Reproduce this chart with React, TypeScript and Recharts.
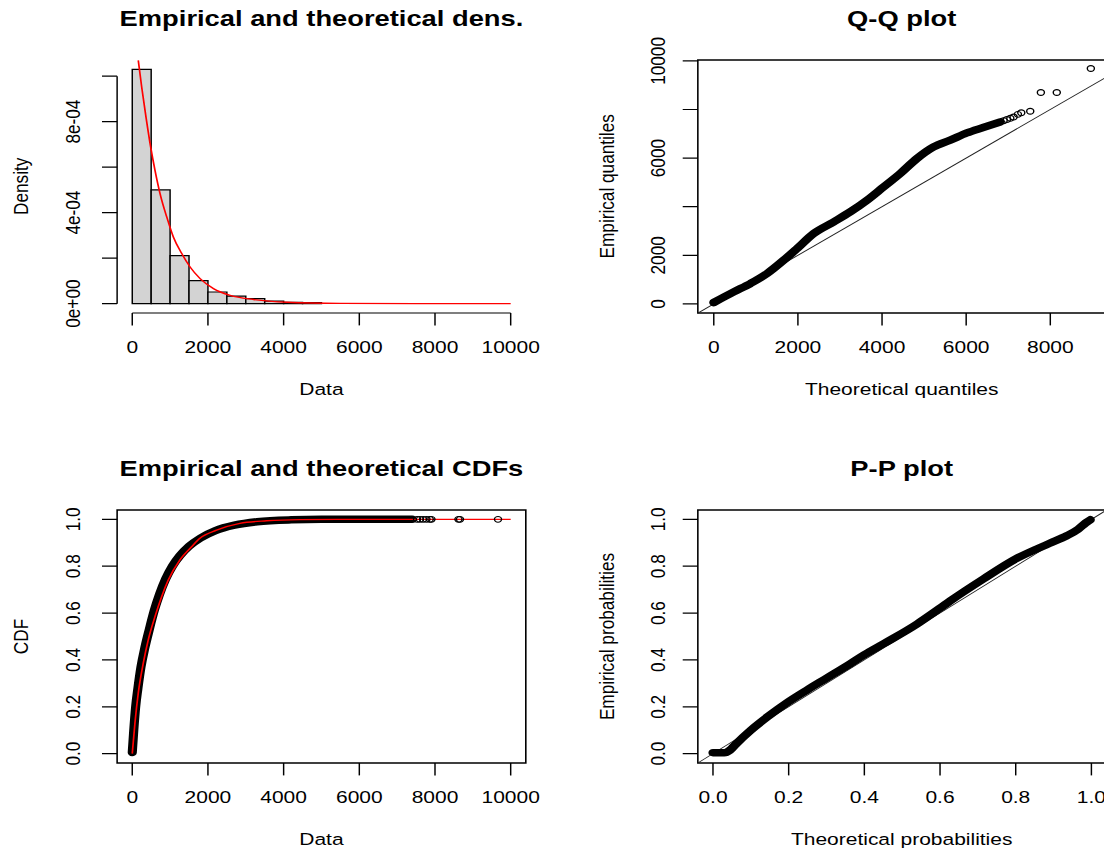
import React from "react";
import {
  ComposedChart,
  Line,
  Scatter,
  XAxis,
  YAxis,
  ReferenceLine,
  ReferenceArea,
} from "recharts";

// The reference picture is an R plot that was stretched sideways,
// so everything is laid out at natural width and then scaled in x.
const STRETCH = 1.22;
const FONT = "'Liberation Sans', Arial, Helvetica, sans-serif";
const TICK_FS = 17.2;
const TITLE_FS = 22.4;

// ---- histogram (bins of 500) ----
const HIST_BIN = 500;
const histMids = [250, 750, 1250, 1750, 2250, 2750, 3250, 3750, 4250, 4750];
const histDensity = [1.03e-3, 5.0e-4, 2.11e-4, 1.01e-4, 5.1e-5, 3.3e-5, 2.2e-5, 1.1e-5, 6e-6, 5e-6];

// fitted density curve (red)
const densX = [159, 249, 363, 487, 601, 734, 911, 1086, 1309, 1528, 1793, 2146, 2588, 3205, 4090, 5500, 7500, 10000];
const densY = [
  1.069e-3, 9.52e-4, 8.2e-4, 6.88e-4, 5.86e-4, 4.84e-4, 3.81e-4, 2.93e-4, 2.2e-4, 1.61e-4, 1.1e-4,
  6.6e-5, 3.6e-5, 1.8e-5, 6e-6, 1e-6, 0, 0,
];

// ---- Q-Q plot ----
const qqTheo = [0, 475, 872, 1268, 1663, 1981, 2375, 2850, 3247, 3643, 4038, 4434, 4830, 5226, 5622, 6018, 6404, 6810];
const qqEmp = [58, 494, 839, 1251, 1798, 2280, 2897, 3374, 3790, 4267, 4815, 5366, 5983, 6461, 6737, 7037, 7259, 7490];
// sparse points in the upper tail
const qqTailTheo = [6890, 6969, 7050, 7127, 7230, 7310, 7523, 7776, 8154, 8964];
const qqTailEmp = [7540, 7588, 7640, 7690, 7800, 7864, 7930, 8700, 8700, 9687];

// ---- CDFs ----
const cdfEmpX = [0, 40, 90, 150, 230, 330, 450, 580, 720, 880, 1060, 1260, 1500, 1800, 2200, 2700, 3300, 4200, 5000, 7400];
const cdfEmpY = [
  0.005, 0.1, 0.2, 0.28, 0.37, 0.45, 0.53, 0.61, 0.68, 0.745, 0.8, 0.845, 0.885, 0.92, 0.952, 0.975, 0.99,
  0.998, 1.0, 1.0,
];
const cdfTailX = [7526, 7600, 7684, 7774, 7861, 7906, 8620, 8660, 9665];
const cdfTailY = [1, 1, 1, 1, 1, 1, 1, 1, 1];
const cdfTheoX = [0, 71, 159, 291, 423, 600, 776, 951, 1260, 1569, 1788, 2229, 2844, 3549, 4429, 6000, 10000];
const cdfTheoY = [0, 0.131, 0.259, 0.386, 0.486, 0.585, 0.67, 0.741, 0.827, 0.883, 0.919, 0.954, 0.983, 0.994, 0.999, 1, 1];

// ---- P-P plot ----
const ppTheo = [
  0, 0.03, 0.045, 0.06, 0.1, 0.145, 0.2, 0.25, 0.3, 0.364, 0.4, 0.452, 0.539, 0.6, 0.627, 0.715, 0.8, 0.89,
  0.935, 0.965, 0.985, 0.997,
];
const ppEmp = [
  0.004, 0.004, 0.015, 0.04, 0.1, 0.158, 0.222, 0.273, 0.322, 0.385, 0.422, 0.47, 0.553, 0.621, 0.652, 0.746,
  0.831, 0.898, 0.93, 0.958, 0.985, 0.998,
];

// ---- axis ticks ----
const dataTicks = [0, 2000, 4000, 6000, 8000, 10000];
const dataTickLabels = ["0", "2000", "4000", "6000", "8000", "10000"];
const densTicks = [0, 2e-4, 4e-4, 6e-4, 8e-4, 1e-3];
const densTickLabels = ["0e+00", "", "4e-04", "", "8e-04", ""];
const qqXTicks = [0, 2000, 4000, 6000, 8000];
const qqXTickLabels = ["0", "2000", "4000", "6000", "8000"];
const qqYTicks = [0, 2000, 4000, 6000, 8000, 10000];
const qqYTickLabels = ["0", "2000", "", "6000", "", "10000"];
const probTicks = [0, 0.2, 0.4, 0.6, 0.8, 1];
const probTickLabels = ["0.0", "0.2", "0.4", "0.6", "0.8", "1.0"];

type Pt = { x: number; y: number };
const zip = (xs: number[], ys: number[]): Pt[] => xs.map((x, i) => ({ x, y: ys[i] }));

const densCurve = zip(densX, densY);
const qqBand = zip(qqTheo, qqEmp);
const qqTail = zip(qqTailTheo, qqTailEmp);
const cdfBand = zip(cdfEmpX, cdfEmpY);
const cdfTail = zip(cdfTailX, cdfTailY);
const cdfTheo = zip(cdfTheoX, cdfTheoY);
const ppBand = zip(ppTheo, ppEmp);

// layout (unstretched px)
const PLOT_W = 335;
const PLOT_H = 253;
const LEFT_X = 96;
const RIGHT_X = 571.6;
const TOP_Y = 59.8;
const BOTTOM_Y = 510;
const PAD_L = 60;
const PAD_T = 45;
const PAD_R = 40;
const PAD_B = 50;
const TICK_LEN = 12.4;

const AX = { stroke: "#000", strokeWidth: 1.2 };

const openCircle = (props: any) => (
  <circle cx={props.cx} cy={props.cy} r={2.9} fill="none" stroke="#000" strokeWidth={1.15} />
);

function labelFor(ticks: number[], labels: string[], v: number) {
  const i = ticks.findIndex((t) => Math.abs(t - v) < 1e-9 * Math.max(1, Math.abs(t)));
  return i >= 0 ? labels[i] : "";
}

interface PanelProps {
  left: number;
  top: number;
  xDomain: [number, number];
  yDomain: [number, number];
  xTicks: number[];
  xLabels: string[];
  yTicks: number[];
  yLabels: string[];
  yLabelOffset: number;
  boxed: boolean;
  children?: React.ReactNode;
}

function Panel(p: PanelProps) {
  const width = PAD_L + PLOT_W + PAD_R;
  const height = PAD_T + PLOT_H + PAD_B;

  const xTick = (props: any) => {
    const label = labelFor(p.xTicks, p.xLabels, props.payload.value);
    if (!label) return <g />;
    return (
      <text x={props.x} y={props.y + 0.358 * TICK_FS} textAnchor="middle" fontSize={TICK_FS} fontFamily={FONT} fill="#000">
        {label}
      </text>
    );
  };

  const yTick = (props: any) => {
    const label = labelFor(p.yTicks, p.yLabels, props.payload.value);
    if (!label) return <g />;
    const bx = props.x + 0.358 * TICK_FS;
    return (
      <text
        x={bx}
        y={props.y}
        transform={`rotate(-90, ${bx}, ${props.y})`}
        textAnchor="middle"
        fontSize={TICK_FS}
        fontFamily={FONT}
        fill="#000"
      >
        {label}
      </text>
    );
  };

  return (
    <div style={{ position: "absolute", left: p.left - PAD_L, top: p.top - PAD_T }}>
      <ComposedChart width={width} height={height} margin={{ top: PAD_T, right: PAD_R, bottom: 0, left: 0 }}>
        <XAxis
          type="number"
          dataKey="x"
          domain={p.xDomain}
          allowDataOverflow
          ticks={p.xTicks}
          interval={0}
          height={PAD_B}
          axisLine={false}
          tickLine={AX}
          tickSize={TICK_LEN}
          tickMargin={21.6}
          tick={xTick}
        />
        <YAxis
          type="number"
          dataKey="y"
          domain={p.yDomain}
          allowDataOverflow
          ticks={p.yTicks}
          interval={0}
          width={PAD_L}
          axisLine={false}
          tickLine={AX}
          tickSize={TICK_LEN}
          tickMargin={p.yLabelOffset - TICK_LEN}
          tick={yTick}
        />
        {p.boxed && (
          <ReferenceArea
            x1={p.xDomain[0]}
            x2={p.xDomain[1]}
            y1={p.yDomain[0]}
            y2={p.yDomain[1]}
            fill="none"
            fillOpacity={0}
            stroke="#000"
            strokeWidth={1.3}
            ifOverflow="visible"
          />
        )}
        {p.children}
      </ComposedChart>
    </div>
  );
}

const titles = [
  { text: "Empirical and theoretical dens.", x: LEFT_X + PLOT_W / 2, y: 26 },
  { text: "Q-Q plot", x: RIGHT_X + PLOT_W / 2, y: 26 },
  { text: "Empirical and theoretical CDFs", x: LEFT_X + PLOT_W / 2, y: 476 },
  { text: "P-P plot", x: RIGHT_X + PLOT_W / 2, y: 476 },
];
const xTitles = [
  { text: "Data", x: LEFT_X + PLOT_W / 2, y: 395.2 },
  { text: "Theoretical quantiles", x: RIGHT_X + PLOT_W / 2, y: 395.2 },
  { text: "Data", x: LEFT_X + PLOT_W / 2, y: 845.2 },
  { text: "Theoretical probabilities", x: RIGHT_X + PLOT_W / 2, y: 845.2 },
];
const yTitles = [
  { text: "Density", x: 17 + 0.358 * TICK_FS, y: TOP_Y + PLOT_H / 2 },
  { text: "Empirical quantiles", x: 497 + 0.358 * TICK_FS, y: TOP_Y + PLOT_H / 2 },
  { text: "CDF", x: 17 + 0.358 * TICK_FS, y: BOTTOM_Y + PLOT_H / 2 },
  { text: "Empirical probabilities", x: 497 + 0.358 * TICK_FS, y: BOTTOM_Y + PLOT_H / 2 },
];

export default function App() {
  const densXDomain: [number, number] = [-400, 10400];
  const densYDomain: [number, number] = [-4.12e-5, 1.0709e-3];
  const qqXDomain: [number, number] = [-379, 9337];
  const qqYDomain: [number, number] = [-374, 10037];
  const probDomain: [number, number] = [-0.04, 1.04];

  return (
    <div style={{ position: "absolute", left: 0, top: 0, width: 1104, height: 852, overflow: "hidden", background: "#fff" }}>
      <div
        style={{
          position: "absolute",
          left: 0,
          top: 0,
          width: 1104 / STRETCH,
          height: 852,
          transform: `scaleX(${STRETCH})`,
          transformOrigin: "0 0",
        }}
      >
        {/* density histogram */}
        <Panel
          left={LEFT_X}
          top={TOP_Y}
          xDomain={densXDomain}
          yDomain={densYDomain}
          xTicks={dataTicks}
          xLabels={dataTickLabels}
          yTicks={densTicks}
          yLabels={densTickLabels}
          yLabelOffset={36.7}
          boxed={false}
        >
          {histMids.map((mid, i) => (
            <ReferenceArea
              key={`bin${i}`}
              x1={mid - HIST_BIN / 2}
              x2={mid + HIST_BIN / 2}
              y1={0}
              y2={histDensity[i]}
              fill="#D3D3D3"
              fillOpacity={1}
              stroke="#000"
              strokeWidth={1.2}
              ifOverflow="visible"
            />
          ))}
          <Line
            data={densCurve}
            dataKey="y"
            type="monotoneX"
            stroke="#FF0000"
            strokeWidth={1.4}
            dot={false}
            activeDot={false}
            isAnimationActive={false}
          />
          <ReferenceLine
            segment={[{ x: 0, y: densYDomain[0] }, { x: 10000, y: densYDomain[0] }]}
            stroke="#000"
            strokeWidth={1.2}
            ifOverflow="visible"
          />
          <ReferenceLine
            segment={[{ x: densXDomain[0], y: 0 }, { x: densXDomain[0], y: 1e-3 }]}
            stroke="#000"
            strokeWidth={1.2}
            ifOverflow="visible"
          />
        </Panel>

        {/* Q-Q plot */}
        <Panel
          left={RIGHT_X}
          top={TOP_Y}
          xDomain={qqXDomain}
          yDomain={qqYDomain}
          xTicks={qqXTicks}
          xLabels={qqXTickLabels}
          yTicks={qqYTicks}
          yLabels={qqYTickLabels}
          yLabelOffset={33.2}
          boxed
        >
          <ReferenceLine
            segment={[{ x: qqXDomain[0], y: qqXDomain[0] }, { x: qqXDomain[1], y: qqXDomain[1] }]}
            stroke="#222"
            strokeWidth={0.9}
            ifOverflow="visible"
          />
          <Line
            data={qqBand}
            dataKey="y"
            type="monotoneX"
            stroke="#000"
            strokeWidth={7.5}
            strokeLinecap="round"
            strokeLinejoin="round"
            dot={false}
            activeDot={false}
            isAnimationActive={false}
          />
          <Scatter data={qqTail} dataKey="y" shape={openCircle} isAnimationActive={false} />
        </Panel>

        {/* CDFs */}
        <Panel
          left={LEFT_X}
          top={BOTTOM_Y}
          xDomain={densXDomain}
          yDomain={probDomain}
          xTicks={dataTicks}
          xLabels={dataTickLabels}
          yTicks={probTicks}
          yLabels={probTickLabels}
          yLabelOffset={36.7}
          boxed
        >
          <Line
            data={cdfBand}
            dataKey="y"
            type="monotoneX"
            stroke="#000"
            strokeWidth={7.5}
            strokeLinecap="round"
            strokeLinejoin="round"
            dot={false}
            activeDot={false}
            isAnimationActive={false}
          />
          <Scatter data={cdfTail} dataKey="y" shape={openCircle} isAnimationActive={false} />
          <Line
            data={cdfTheo}
            dataKey="y"
            type="monotoneX"
            stroke="#FF0000"
            strokeWidth={1.4}
            dot={false}
            activeDot={false}
            isAnimationActive={false}
          />
        </Panel>

        {/* P-P plot */}
        <Panel
          left={RIGHT_X}
          top={BOTTOM_Y}
          xDomain={probDomain}
          yDomain={probDomain}
          xTicks={probTicks}
          xLabels={probTickLabels}
          yTicks={probTicks}
          yLabels={probTickLabels}
          yLabelOffset={33.2}
          boxed
        >
          <ReferenceLine
            segment={[{ x: probDomain[0], y: probDomain[0] }, { x: probDomain[1], y: probDomain[1] }]}
            stroke="#222"
            strokeWidth={0.9}
            ifOverflow="visible"
          />
          <Line
            data={ppBand}
            dataKey="y"
            type="monotoneX"
            stroke="#000"
            strokeWidth={7.5}
            strokeLinecap="round"
            strokeLinejoin="round"
            dot={false}
            activeDot={false}
            isAnimationActive={false}
          />
        </Panel>

        <svg
          width={1104 / STRETCH}
          height={852}
          style={{ position: "absolute", left: 0, top: 0, pointerEvents: "none" }}
          fontFamily={FONT}
        >
          {titles.map((t, i) => (
            <text key={`t${i}`} x={t.x} y={t.y} textAnchor="middle" fontSize={TITLE_FS} fontWeight="bold" fill="#000">
              {t.text}
            </text>
          ))}
          {xTitles.map((t, i) => (
            <text key={`x${i}`} x={t.x} y={t.y} textAnchor="middle" fontSize={TICK_FS} fill="#000">
              {t.text}
            </text>
          ))}
          {yTitles.map((t, i) => (
            <text
              key={`y${i}`}
              x={t.x}
              y={t.y}
              transform={`rotate(-90, ${t.x}, ${t.y})`}
              textAnchor="middle"
              fontSize={TICK_FS}
              fill="#000"
            >
              {t.text}
            </text>
          ))}
        </svg>
      </div>
    </div>
  );
}
